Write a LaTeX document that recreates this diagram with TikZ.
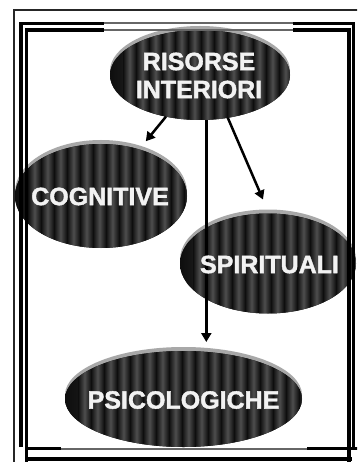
\documentclass[tikz,border=0pt]{standalone}
\usepackage{fontspec}
\setmainfont{Liberation Sans}
\newfontfamily\lblfont{Liberation Sans Bold}[FakeBold=1.6]
\usetikzlibrary{shapes.geometric,arrows.meta,shadows}
\definecolor{stripeD}{HTML}{0E0E0E}
\definecolor{stripeL}{HTML}{4E4E4E}
\definecolor{rimgray}{HTML}{A8A8A8}
\definecolor{txtwhite}{HTML}{F2F2F2}
\definecolor{thinframe}{HTML}{262626}
\tikzset{
  bubble/.style={ellipse, inner sep=0pt, outer sep=0pt, fill=stripeD,
    general shadow={shadow xshift=0pt, shadow yshift=4pt, fill=rimgray},
    path picture={\foreach \k in {0,...,19}{
      \shade[left color=stripeD, right color=stripeD, middle color=stripeL]
        ([xshift=\k*13pt, yshift=5pt]path picture bounding box.north west)
        rectangle ([xshift=\k*13pt+13pt, yshift=-5pt]path picture bounding box.south west);}}},
  lbl/.style={inner sep=0pt, outer sep=0pt, text=txtwhite, align=center,
    font=\lblfont\fontsize{25}{28}\selectfont},
  conn/.style={line width=2.5pt, -{Triangle[width=10pt,length=9pt]}},
  frameline/.style={line width=3.5pt, black},
  framegray/.style={line width=2pt, black!60},
}
\begin{document}
\begin{tikzpicture}[x=1pt,y=-1pt]
\useasboundingbox (0,0) rectangle (357,462);
\clip (0,0) rectangle (357,462);
\fill[white] (0,0) rectangle (357,462);

% ellipses
\node[bubble, minimum width=180pt, minimum height=90pt] (ris) at (200,75) {};
\node[bubble, minimum width=172pt, minimum height=104pt] (cog) at (101,196) {};
\node[bubble, minimum width=176pt, minimum height=100pt] (spi) at (268,263.5) {};
\node[bubble, minimum width=237pt, minimum height=96pt] (psi) at (183.5,399) {};

% connectors
\draw[conn, shorten >=10.5pt] (ris) -- (cog);
\draw[conn] (ris.-57.6) -- ([xshift=-5pt,yshift=14pt]spi.north);
\draw[conn, shorten >=9pt] (ris.-82.4) -- (ris.-82.4 |- psi.north);

% texts
\node[lbl] (ris-t) at (199,75.5) {RISORSE\\INTERIORI};
\node[lbl] (cog-t) at (100,196.5) {COGNITIVE};
\node[lbl] (spi-t) at (269.5,264.5) {SPIRITUALI};
\node[lbl] (psi-t) at (183.5,400) {PSICOLOGICHE};

% frame
\draw[line width=1.5pt, thinframe] (14,470) -- (14,10) -- (370,10);
\draw[frameline] (21,447) -- (21,23.5) -- (104,23.5);
\draw[frameline] (293,23.5) -- (353.5,23.5) -- (353.5,449);
\draw[frameline] (28,448.5) -- (61,448.5);
\draw[frameline] (307,448.5) -- (360,448.5);
\draw[framegray] (104,23.5) -- (293,23.5);
\draw[framegray] (61,448.5) -- (307,448.5);
\draw[frameline] (26.7,462) -- (26.7,30) -- (104,30);
\draw[frameline] (293,30) -- (349,30) -- (349,462);
\draw[frameline] (25,459) -- (352,459);
\draw[framegray] (104,30) -- (293,30);
\end{tikzpicture}
\end{document}
